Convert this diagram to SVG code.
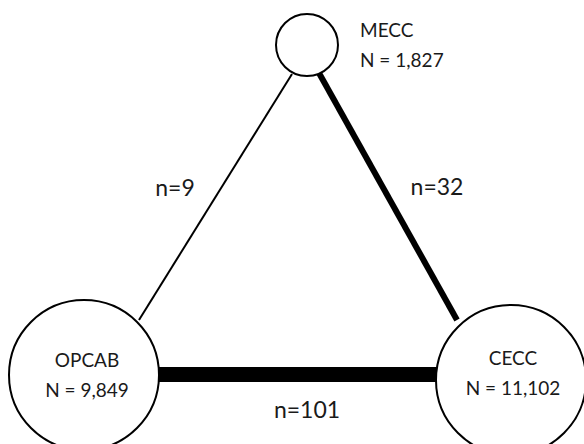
<svg xmlns="http://www.w3.org/2000/svg" width="584" height="444" viewBox="0 0 584 444">
<style>
.node{fill:#fff;stroke:#000;stroke-width:2}
.lbl{font-family:Lato,"Open Sans","Liberation Sans",sans-serif;font-size:19px;fill:#1a1a1a}
.elbl{font-family:Lato,"Open Sans","Liberation Sans",sans-serif;font-size:23px;fill:#1a1a1a;text-anchor:middle}
.mid{text-anchor:middle}
</style>
<rect width="584" height="444" fill="#fff"/>
<g id="connectors" stroke="#000" stroke-linecap="butt">
<line x1="292" y1="74" x2="139" y2="320" stroke-width="2"/>
<line x1="319" y1="73" x2="457" y2="320" stroke-width="6"/>
<line x1="158" y1="374.5" x2="437" y2="374.5" stroke-width="15"/>
<text class="elbl" x="175" y="196" stroke="none">n=9</text>
<text class="elbl" x="437" y="195" stroke="none">n=32</text>
<text class="elbl" x="307" y="418" stroke="none">n=101</text>
</g>
<g id="MECC">
<circle class="node" cx="307" cy="45" r="31"/>
<text class="lbl" x="360" y="37">MECC</text>
<text class="lbl" x="360" y="67">N = 1,827</text>
</g>
<g id="OPCAB">
<circle class="node" cx="84" cy="375" r="75"/>
<text class="lbl mid" x="87" y="367">OPCAB</text>
<text class="lbl mid" x="87" y="397">N = 9,849</text>
</g>
<g id="CECC">
<circle class="node" cx="511" cy="380" r="75"/>
<text class="lbl mid" x="513" y="365">CECC</text>
<text class="lbl mid" x="513" y="395">N = 11,102</text>
</g>
</svg>
